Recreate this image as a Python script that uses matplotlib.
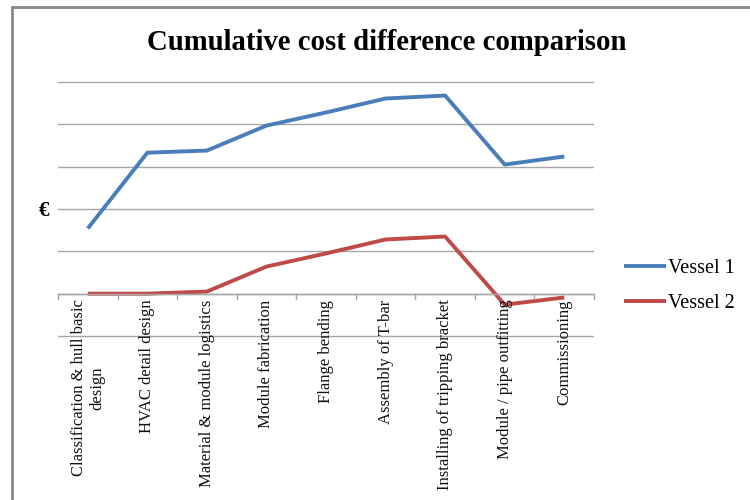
import matplotlib
matplotlib.use("Agg")
import matplotlib.pyplot as plt
from matplotlib.patches import Rectangle
import numpy as np

categories = ["Classification & hull basic\ndesign", "HVAC detail design",
              "Material & module logistics", "Module fabrication", "Flange bending",
              "Assembly of T-bar", "Installing of tripping bracket",
              "Module / pipe outfitting", "Commissioning"]
vessel1 = [1.54, 3.33, 3.38, 3.97, 4.28, 4.61, 4.68, 3.05, 3.24]
vessel2 = [0.0, 0.0, 0.05, 0.64, 0.95, 1.28, 1.35, -0.26, -0.09]
series_names = ["Vessel 1", "Vessel 2"]
colors = ["#4a7ebb", "#be4b48"]

plt.rcParams['font.family'] = ['Liberation Serif', 'DejaVu Serif']

W, H = 750, 500
fig = plt.figure(figsize=(7.5, 5), dpi=100)
fig.patches.append(Rectangle((12 / W, -0.1), 2.0, 1 - 7 / H + 0.1, transform=fig.transFigure,
                             fill=False, edgecolor="#888888", linewidth=2))

ax = fig.add_axes([58 / W, 1 - 340 / H, (594 - 58) / W, (340 - 78) / H])
x = np.arange(len(categories))
for vals, name, c in zip([vessel1, vessel2], series_names, colors):
    ax.plot(x, vals, color=c, linewidth=2.8, label=name, solid_capstyle='butt')

ax.set_xlim(-0.5, len(categories) - 0.5)
ax.set_ylim(-1 - 4 / 42.33, 5 + 4 / 42.33)
ax.set_yticks(np.arange(-1, 6, 1))
ax.set_yticklabels(["", "", "", "€", "", "", ""], fontsize=15, fontweight='bold')
ax.tick_params(axis='y', length=0, pad=6)
ax.grid(axis='y', color="#a6a6a6", linewidth=1)
for s in ax.spines.values():
    s.set_visible(False)
ax.axhline(0, color="#a6a6a6", linewidth=1)
ax.set_xticks([])

# category boundary ticks on the zero line
for b in np.arange(-0.5, len(categories), 1):
    ax.plot([b, b], [0, -0.12], color="#a6a6a6", linewidth=1, clip_on=False)

for xi, lab in zip(x, categories):
    ax.text(xi, -0.14, lab, rotation=90, ha='center', va='top', fontsize=12,
            multialignment='center', color="#111111")

fig.text(387 / W, 1 - 42 / H, "Cumulative cost difference comparison",
         ha='center', va='center', fontsize=20.7, fontweight='bold')

leg = ax.legend(loc='center left', bbox_to_anchor=(606 / W, 1 - 286 / H),
                bbox_transform=fig.transFigure, frameon=False, fontsize=14.5,
                handlelength=2.1, handletextpad=0.1, labelspacing=0.75)

fig.savefig("out.png", dpi=100)
